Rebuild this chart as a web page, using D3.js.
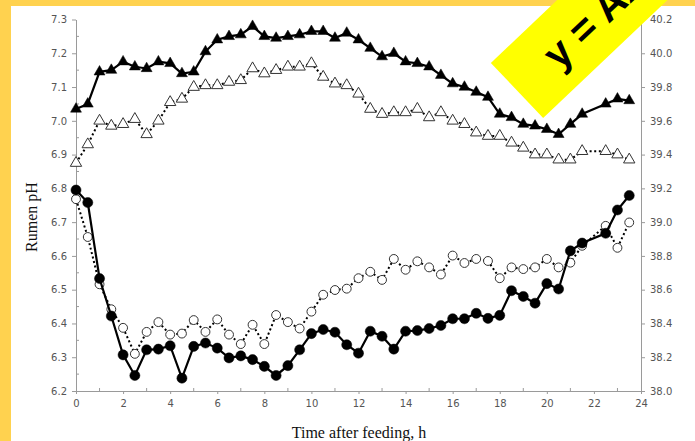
<!DOCTYPE html>
<meta charset="utf-8">
<style>
body { margin: 0; background: #fff; }
svg { display: block; }
.axis path, .axis line { stroke: #9a9a9a; }
.axis text { fill: #555; font-family: "DejaVu Sans", sans-serif; font-size: 10px; }
.title { font-family: "Liberation Serif", "Times New Roman", serif; font-size: 16px; fill: #111; }
</style>
<svg width="695" height="441"></svg>
<script src="https://d3js.org/d3.v7.min.js"></script>
<script>
// hours after feeding (no reading at 22 h)
var hours = [0,0.5,1,1.5,2,2.5,3,3.5,4,4.5,5,5.5,6,6.5,7,7.5,8,8.5,9,9.5,10,10.5,11,11.5,
  12,12.5,13,13.5,14,14.5,15,15.5,16,16.5,17,17.5,18,18.5,19,19.5,20,20.5,21,21.5,22.5,23,23.5];

// rumen pH (left axis)
var phFilled = [6.795,6.758,6.533,6.422,6.307,6.246,6.322,6.324,6.334,6.238,6.332,6.342,6.327,6.298,6.304,6.293,6.273,6.246,6.275,6.322,6.37,6.382,6.374,6.337,
  6.312,6.377,6.362,6.324,6.377,6.379,6.385,6.394,6.414,6.414,6.43,6.415,6.424,6.497,6.48,6.46,6.518,6.502,6.615,6.638,6.667,6.736,6.779];
var phOpen = [6.768,6.656,6.516,6.442,6.387,6.31,6.375,6.404,6.367,6.37,6.41,6.375,6.412,6.367,6.339,6.396,6.339,6.425,6.404,6.385,6.435,6.485,6.499,6.503,
  6.534,6.553,6.529,6.591,6.559,6.584,6.566,6.545,6.601,6.579,6.591,6.585,6.534,6.566,6.561,6.566,6.591,6.566,6.58,6.63,6.689,6.624,6.699];

// rumen temperature (right axis)
var tempFilled = [39.67,39.70,39.89,39.90,39.95,39.92,39.91,39.95,39.94,39.88,39.89,40.01,40.08,40.10,40.11,40.16,40.10,40.09,40.10,40.11,40.13,40.13,40.09,40.12,
  40.08,40.03,39.98,40.00,39.95,39.94,39.92,39.87,39.82,39.80,39.77,39.74,39.64,39.62,39.58,39.57,39.55,39.52,39.58,39.64,39.70,39.73,39.72];
var tempOpen = [39.35,39.46,39.60,39.57,39.58,39.61,39.52,39.60,39.71,39.73,39.80,39.81,39.81,39.83,39.84,39.91,39.88,39.90,39.92,39.92,39.94,39.86,39.82,39.81,
  39.76,39.67,39.64,39.65,39.65,39.67,39.62,39.65,39.60,39.58,39.53,39.51,39.51,39.47,39.44,39.40,39.40,39.37,39.37,39.42,39.42,39.40,39.37];

var xTicks = d3.range(0, 25, 2);
var phTicks = d3.range(6.2, 7.31, 0.1);
var tempTicks = d3.range(38.0, 40.21, 0.2);

var svg = d3.select("svg");
var plotL = 76, plotR = 641, plotT = 19.5, plotB = 391;

var x = d3.scaleLinear().domain([0, 24]).range([plotL, plotR]);
var yL = d3.scaleLinear().domain([6.2, 7.3]).range([plotB, plotT]);
var yR = d3.scaleLinear().domain([38.0, 40.2]).range([plotB, plotT]);

// frame
svg.append("rect").attr("width", 695).attr("height", 441).attr("fill", "#ffd24f");
svg.append("rect").attr("x", 11).attr("y", 6).attr("width", 684).attr("height", 435).attr("fill", "#fff");

// minor ticks
var minor = svg.append("g").attr("stroke", "#9a9a9a");
minor.selectAll(".mx").data(d3.range(1, 24, 2)).enter().append("line")
    .attr("x1", function(d) { return x(d); }).attr("x2", function(d) { return x(d); })
    .attr("y1", plotB).attr("y2", plotB - 3);
minor.selectAll(".my").data(d3.range(6.25, 7.3, 0.1)).enter().append("line")
    .attr("x1", plotL).attr("x2", plotL + 3)
    .attr("y1", function(d) { return yL(d); }).attr("y2", function(d) { return yL(d); });

svg.append("g").attr("class", "axis")
    .attr("transform", "translate(0," + plotB + ")")
    .call(d3.axisBottom(x).tickValues(xTicks).tickSize(3).tickSizeOuter(0).tickPadding(6)
      .tickFormat(d3.format("d")));
svg.append("g").attr("class", "axis")
    .attr("transform", "translate(" + plotL + ",0)")
    .call(d3.axisLeft(yL).tickValues(phTicks).tickSize(4).tickSizeOuter(0).tickPadding(5)
      .tickFormat(d3.format(".1f")));
svg.append("g").attr("class", "axis")
    .attr("transform", "translate(" + plotR + ",0)")
    .call(d3.axisRight(yR).tickValues(tempTicks).tickSize(4).tickSizeOuter(0).tickPadding(5)
      .tickFormat(d3.format(".1f")));

svg.append("text").attr("class", "title")
    .attr("x", 359).attr("y", 438).attr("text-anchor", "middle")
    .text("Time after feeding, h");
svg.append("text").attr("class", "title")
    .attr("transform", "translate(37,217) rotate(-90)").attr("text-anchor", "middle")
    .text("Rumen pH");

function series(vals, yScale, dotted, filled, shape) {
  var pts = hours.map(function(h, i) { return [h, vals[i]]; });
  var line = d3.line().x(function(d) { return x(d[0]); }).y(function(d) { return yScale(d[1]); });
  svg.append("path").datum(pts)
      .attr("fill", "none").attr("stroke", "#000")
      .attr("stroke-width", dotted ? 2 : 2.2)
      .attr("stroke-dasharray", dotted ? "2,2.6" : null)
      .attr("d", line);
  var sym = d3.symbol().type(shape).size(shape === d3.symbolCircle ? (filled ? 80 : 62) : (filled ? 52 : 56));
  svg.append("g").selectAll("path").data(pts).enter().append("path")
      .attr("transform", function(d) { return "translate(" + x(d[0]) + "," + yScale(d[1]) + ")"; })
      .attr("d", sym)
      .attr("fill", filled ? "#000" : "#fff")
      .attr("stroke", filled ? "#000" : "#333")
      .attr("stroke-width", filled ? 0.5 : 1);
}

series(tempOpen, yR, true, false, d3.symbolTriangle);
series(tempFilled, yR, false, true, d3.symbolTriangle);
series(phOpen, yL, true, false, d3.symbolCircle);
series(phFilled, yL, false, true, d3.symbolCircle);

// banner
var banner = svg.append("g").attr("transform", "translate(517,90.5) rotate(-43.5)");
banner.append("rect").attr("x", 0).attr("y", -38).attr("width", 260).attr("height", 76).attr("fill", "#ffff00");
banner.append("text").attr("x", 44).attr("y", 15)
    .attr("font-family", "Liberation Sans, Arial, sans-serif").attr("font-weight", "bold")
    .attr("font-size", 41).attr("fill", "#000")
    .text("y = Ax + b");
</script>
